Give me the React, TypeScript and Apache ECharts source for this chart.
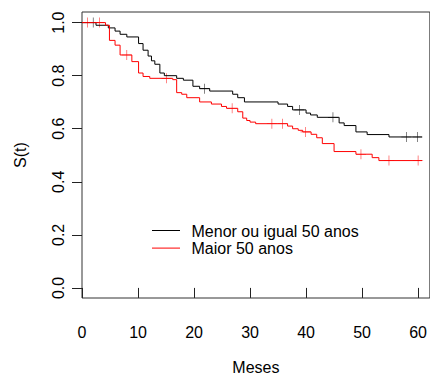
import React, { useEffect, useRef } from "react";
import * as echarts from "echarts";

// Group "Menor ou igual 50 anos" (black): step times (months) and survival after each step
const blackTimes = [0, 2.5, 4.7, 5.9, 6.8, 8.0, 10.1, 10.9, 11.8, 12.4, 13.0, 13.9, 14.7, 16.9, 18.1, 19.8, 21.0, 22.8, 26.9, 27.8, 29.0, 35.0, 36.7, 37.6, 40.0, 40.8, 42.0, 45.9, 46.8, 48.9, 50.9, 54.8, 60.7];
const blackSurv = [1.0, 0.99, 0.98, 0.968, 0.956, 0.946, 0.921, 0.896, 0.874, 0.856, 0.843, 0.81, 0.8, 0.79, 0.783, 0.76, 0.751, 0.742, 0.73, 0.717, 0.701, 0.693, 0.684, 0.671, 0.659, 0.652, 0.643, 0.622, 0.612, 0.588, 0.578, 0.569, 0.569];
const blackCensorTimes = [2.0, 21.9, 38.8, 44.8, 57.9, 59.9];
const blackCensorSurv = [1.0, 0.751, 0.671, 0.643, 0.569, 0.569];

// Group "Maior 50 anos" (red)
const redTimes = [0, 4.2, 4.9, 5.9, 6.8, 8.9, 10.1, 10.9, 12.1, 16.2, 16.9, 17.8, 18.7, 21.0, 23.1, 24.9, 25.8, 27.8, 28.7, 29.4, 30.0, 31.0, 36.7, 37.6, 38.6, 39.4, 40.9, 41.9, 42.9, 45.0, 48.9, 51.8, 53.0, 60.7];
const redSurv = [1.0, 0.99, 0.933, 0.915, 0.878, 0.853, 0.81, 0.797, 0.79, 0.785, 0.736, 0.73, 0.717, 0.701, 0.693, 0.684, 0.677, 0.664, 0.64, 0.631, 0.625, 0.619, 0.61, 0.6, 0.594, 0.588, 0.579, 0.566, 0.544, 0.514, 0.504, 0.491, 0.48, 0.48];
const redCensorTimes = [1.0, 3.1, 8.0, 15.1, 26.8, 33.9, 35.8, 39.9, 49.8, 54.8, 60.0];
const redCensorSurv = [1.0, 1.0, 0.878, 0.79, 0.677, 0.619, 0.619, 0.588, 0.504, 0.48, 0.48];

const xTicks = [0, 10, 20, 30, 40, 50, 60];
const yTicks = [0, 0.2, 0.4, 0.6, 0.8, 1.0];
const legendNames = ["Menor ou igual 50 anos", "Maior 50 anos"];
const colors = ["#000000", "#ff0000"];

const FONT = "'Liberation Sans', Arial, Helvetica, sans-serif";
const PLUS = "path://M-0.6,-10 H0.6 V-0.6 H10 V0.6 H0.6 V10 H-0.6 V0.6 H-10 V-0.6 H-0.6 Z";

const zip = (a: number[], b: number[]) => a.map((v, i) => [v, b[i]]);

export default function App() {
  const ref = useRef<HTMLDivElement>(null);
  useEffect(() => {
    if (!ref.current) return;
    const chart = echarts.init(ref.current, undefined, { renderer: "svg" });
    chart.setOption({
      animation: false,
      backgroundColor: "#ffffff",
      textStyle: { fontFamily: FONT },
      grid: {
        left: 82,
        top: 12,
        width: 349,
        height: 291,
        show: true,
        borderColor: "#333",
        borderWidth: 1,
        backgroundColor: "transparent",
      },
      xAxis: {
        type: "value",
        min: 0,
        max: 62.1,
        splitLine: { show: false },
        axisLine: { show: false },
        axisTick: { show: true, length: 10, customValues: xTicks, lineStyle: { color: "#222", width: 1 } },
        axisLabel: { customValues: xTicks, fontSize: 16, color: "#000", margin: 26, fontFamily: FONT },
        name: "Meses",
        nameLocation: "middle",
        nameGap: 61,
        nameTextStyle: { fontSize: 16, color: "#000", fontFamily: FONT },
      },
      yAxis: {
        type: "value",
        min: -0.038,
        max: 1.04,
        splitLine: { show: false },
        axisLine: { show: false },
        axisTick: { show: true, length: 10, customValues: yTicks, lineStyle: { color: "#222", width: 1 } },
        axisLabel: {
          customValues: yTicks,
          rotate: 90,
          fontSize: 16,
          color: "#000",
          margin: 16,
          fontFamily: FONT,
          formatter: (v: number) => v.toFixed(1),
        },
        name: "S(t)",
        nameLocation: "middle",
        nameGap: 54,
        nameTextStyle: { fontSize: 16, color: "#000", fontFamily: FONT },
      },
      series: [
        {
          type: "line",
          name: legendNames[0],
          step: "end",
          symbol: "none",
          data: zip(blackTimes, blackSurv),
          lineStyle: { color: colors[0], width: 1 },
          itemStyle: { color: colors[0] },
        },
        {
          type: "line",
          name: legendNames[1],
          step: "end",
          symbol: "none",
          data: zip(redTimes, redSurv),
          lineStyle: { color: colors[1], width: 1 },
          itemStyle: { color: colors[1] },
        },
        {
          type: "scatter",
          symbol: PLUS,
          symbolSize: 10,
          data: zip(blackCensorTimes, blackCensorSurv),
          itemStyle: { color: colors[0] },
        },
        {
          type: "scatter",
          symbol: PLUS,
          symbolSize: 10,
          data: zip(redCensorTimes, redCensorSurv),
          itemStyle: { color: colors[1] },
        },
      ],
      graphic: legendNames.flatMap((name, i) => [
        {
          type: "line",
          shape: { x1: 152, y1: 230.5 + i * 17.6, x2: 180, y2: 230.5 + i * 17.6 },
          style: { stroke: colors[i], lineWidth: 1 },
        },
        {
          type: "text",
          x: 191.5,
          y: 231 + i * 17.6,
          style: { text: name, fill: "#000", fontSize: 16, fontFamily: FONT, verticalAlign: "middle", align: "left" },
        },
      ]),
    });
    return () => chart.dispose();
  }, []);
  return <div ref={ref} style={{ width: 430, height: 380, position: "absolute", left: 0, top: 0 }} />;
}
